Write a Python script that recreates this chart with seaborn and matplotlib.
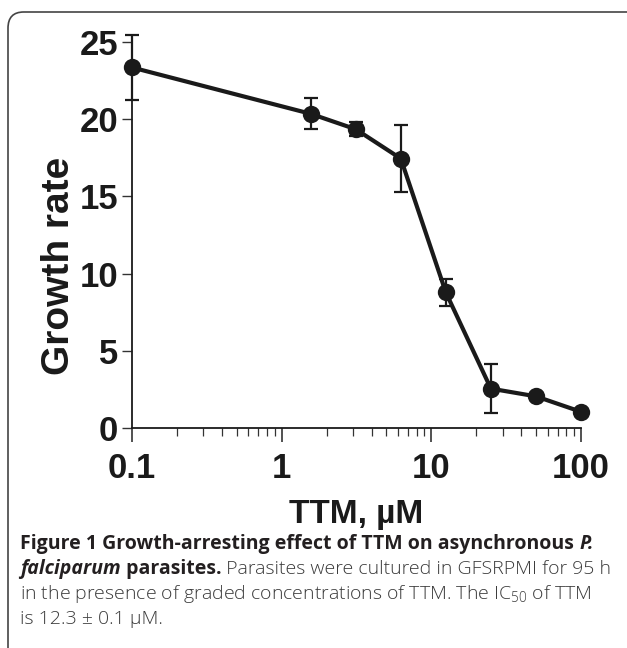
import matplotlib
matplotlib.use("Agg")
import matplotlib.pyplot as plt
import matplotlib.ticker as mticker
from matplotlib.patches import FancyBboxPatch
import seaborn as sns
import pandas as pd
import numpy as np

# data
conc = [0.1, 1.5625, 3.125, 6.25, 12.5, 25, 50, 100]
growth = [23.35, 20.35, 19.35, 17.45, 8.78, 2.55, 2.05, 1.05]
err = [2.1, 1.0, 0.45, 2.17, 0.9, 1.57, 0.0, 0.0]
yticks = [0, 5, 10, 15, 20, 25]
xticks = [0.1, 1, 10, 100]
xticklabels = ["0.1", "1", "10", "100"]

sns.set_style("ticks")
plt.rcParams['font.family'] = ['Liberation Sans', 'DejaVu Sans']
plt.rcParams['mathtext.default'] = 'regular'

W, H = 627, 648
fig = plt.figure(figsize=(W / 100, H / 100), dpi=100)
ax = fig.add_axes([132 / W, 1 - 428 / H, (581 - 132) / W, (428 - 42) / H])

df = pd.DataFrame({"conc": conc, "growth": growth})
ax.errorbar(conc, growth, yerr=err, fmt="none", ecolor="#1a1a1a",
            elinewidth=1.6, capsize=5, capthick=1.6, clip_on=False, zorder=2)
sns.lineplot(data=df, x="conc", y="growth", ax=ax, color="#1a1a1a",
             linewidth=3, marker="o", markersize=12.5, markeredgewidth=0,
             markerfacecolor="#1a1a1a", clip_on=False, zorder=3)

ax.set_xscale("log")
ax.set_xlim(0.1, 100)
ax.set_ylim(0, 25)
ax.set_yticks(yticks)
ax.set_yticklabels([str(v) for v in yticks])
ax.set_xticks(xticks)
ax.set_xticklabels(xticklabels)
ax.xaxis.set_minor_locator(mticker.LogLocator(base=10, subs=np.arange(2, 10)))
ax.xaxis.set_minor_formatter(mticker.NullFormatter())

for s in ["top", "right"]:
    ax.spines[s].set_visible(False)
for s in ["left", "bottom"]:
    ax.spines[s].set_linewidth(1.3)
    ax.spines[s].set_color("#1a1a1a")

ax.tick_params(axis="y", which="major", length=7, width=1.0, color="#333333",
               labelsize=25, pad=3)
ax.tick_params(axis="x", which="major", length=10, width=1.2, color="#333333",
               labelsize=25, pad=7)
ax.tick_params(axis="x", which="minor", length=6, width=0.9, color="#333333")
for lab in ax.get_xticklabels() + ax.get_yticklabels():
    lab.set_fontweight("bold")
    lab.set_color("#1a1a1a")

ax.set_xlabel("TTM, µM", fontsize=24, fontweight="bold", color="#1a1a1a", labelpad=10)
ax.set_ylabel("Growth rate", fontsize=28, fontweight="bold", color="#1a1a1a")
ax.yaxis.set_label_coords(-0.122, 0.42)

# border box
box = FancyBboxPatch((8 / W, -0.1), 1.1, 1 - 12 / H + 0.1,
                     boxstyle="round,pad=0,rounding_size=0.025",
                     transform=fig.transFigure, fill=False,
                     edgecolor="#444444", linewidth=1.2, clip_on=False)
fig.patches.append(box)

# caption
cap_font = ['Open Sans', 'DejaVu Sans']
fs = 14.0
renderer = fig.canvas.get_renderer()


def draw_runs(y_px, runs, x0_px=20):
    x = x0_px / W
    for txt, weight, style, color in runs:
        t = fig.text(x, 1 - y_px / H, txt, fontsize=fs, fontweight=weight,
                     fontstyle=style, family=cap_font, color=color,
                     va="baseline", ha="left")
        bb = t.get_window_extent(renderer=renderer)
        x = bb.x1 / W


bold_c = "#231f20"
norm_c = "#3a3a3a"
draw_runs(549, [("Figure 1 Growth-arresting effect of TTM on asynchronous ", "bold", "normal", bold_c),
                ("P.", "bold", "italic", bold_c)])
draw_runs(574, [("falciparum", "bold", "italic", bold_c),
                (" parasites.", "bold", "normal", bold_c),
                (" Parasites were cultured in GFSRPMI for 95 h", "light", "normal", norm_c)])
draw_runs(599, [("in the presence of graded concentrations of TTM. The IC$_{50}$ of TTM", "light", "normal", norm_c)])
draw_runs(624, [("is 12.3 ± 0.1 µM.", "light", "normal", norm_c)])

fig.savefig("out.png", dpi=100)
